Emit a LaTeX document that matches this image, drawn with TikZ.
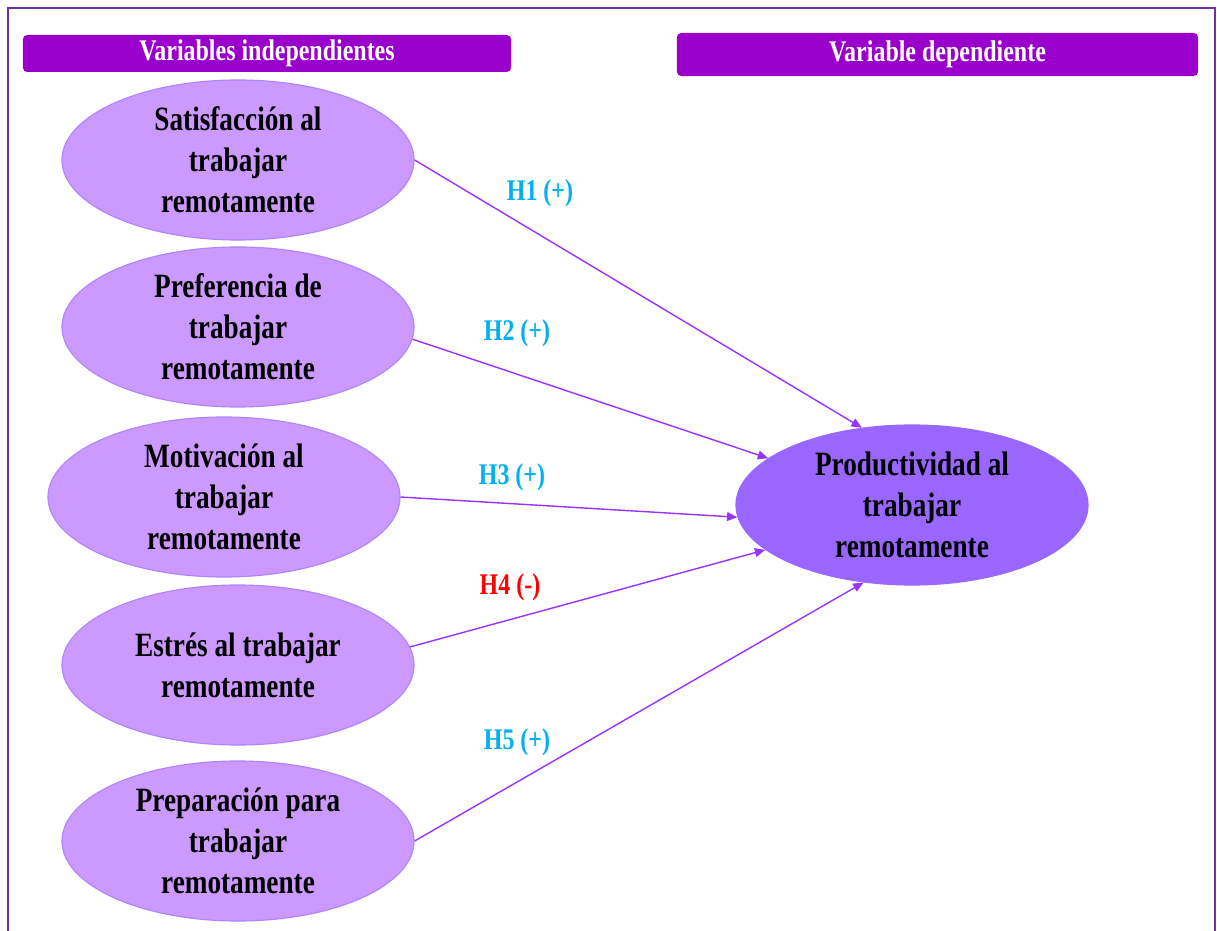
\documentclass[tikz,border=0pt]{standalone}
\usepackage{fontspec}
\newfontfamily\narrowserif[FakeStretch=0.8]{Liberation Serif}
\usetikzlibrary{arrows.meta, shapes.geometric}
\definecolor{frameviolet}{HTML}{7030A0}
\definecolor{headpurple}{HTML}{9900CC}
\definecolor{lilac}{HTML}{CC99FF}
\definecolor{lavender}{HTML}{9966FF}
\definecolor{arrowviolet}{HTML}{9933FF}
\definecolor{hypblue}{HTML}{00B0F0}
\definecolor{hypred}{HTML}{FF0000}

\tikzset{
  header/.style={fill=headpurple, rounded corners=3pt, text=white, inner sep=0pt,
    font=\narrowserif\bfseries\fontsize{21.3}{25}\selectfont},
  indvar/.style={ellipse, fill=lilac, draw=lavender!80, line width=0.8pt, inner sep=0pt,
    minimum width=8.8cm, minimum height=4cm, align=center,
    font=\narrowserif\bfseries\fontsize{24.2}{29.2}\selectfont},
  depvar/.style={indvar, fill=lavender, draw=lavender},
  hyp/.style={->, arrowviolet, line width=1pt},
  hyplabel/.style={font=\narrowserif\bfseries\fontsize{21.3}{25}\selectfont},
}

\begin{document}
\begin{tikzpicture}[x=0.025cm, y=-0.025cm, >={Triangle[length=2.6mm, width=2.2mm]}]

\useasboundingbox (0,0) rectangle (1217,931);

% Frame (bottom edge falls outside the page)
\draw[frameviolet, line width=1.5pt] (8,960) -- (8,8) -- (1215,8) -- (1215,960);

% Headers
\node[header, minimum width=12.2cm, minimum height=0.925cm] (indhead) at (267,53.5)
  {Variables independientes};
\node[header, minimum width=13.025cm, minimum height=1.075cm] (dephead) at (937.5,54.5)
  {Variable dependiente};

% ================================================================
% INDEPENDENT VARIABLES
% ================================================================
\node[indvar] (s1) at (238,160) {Satisfacción al\\trabajar\\remotamente};
\node[indvar] (s2) at (238,327) {Preferencia de\\trabajar\\remotamente};
\node[indvar] (s3) at (224,497) {Motivación al\\trabajar\\remotamente};
\node[indvar] (s4) at (238,665) {Estrés al trabajar\\remotamente};
\node[indvar] (s5) at (238,841) {Preparación para\\trabajar\\remotamente};

% ================================================================
% DEPENDENT VARIABLE
% ================================================================
\node[depvar] (dv) at (912,505) {Productividad al\\trabajar\\remotamente};

% Hypotheses
\draw[hyp] (s1.east) -- (dv.123);
\draw[hyp] (s2.-4) -- (dv.162);
\draw[hyp] (s3.east) -- (dv.184);
\draw[hyp] (s4.6) -- (dv.197);
\draw[hyp] (s5.east) -- (dv.238);

\node[hyplabel, text=hypblue] (h1) at (540,193) {H1 (+)};
\node[hyplabel, text=hypblue] (h2) at (517,333) {H2 (+)};
\node[hyplabel, text=hypblue] (h3) at (512,477) {H3 (+)};
\node[hyplabel, text=hypred]  (h4) at (510,587) {H4 (-)};
\node[hyplabel, text=hypblue] (h5) at (517,742) {H5 (+)};

\end{tikzpicture}
\end{document}
